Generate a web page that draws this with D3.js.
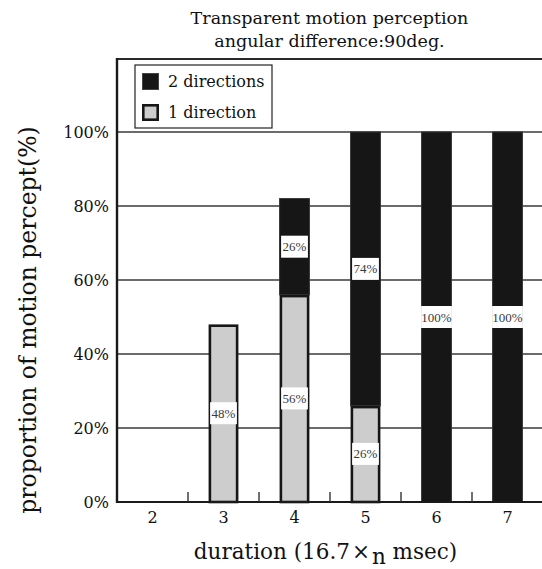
<!DOCTYPE html>
<html>
<head>
<meta charset="utf-8">
<script src="https://cdn.jsdelivr.net/npm/d3@7"></script>
<style>
  body { margin: 0; background: #fff; }
  svg { display: block; }
  text { font-family: "DejaVu Serif", "Liberation Serif", serif; fill: #111; }
</style>
</head>
<body>
<div id="chart"></div>
<script>
// data
const durations = ["2", "3", "4", "5", "6", "7"];
const oneDirection = [0, 48, 56, 26, 0, 0];
const twoDirections = [0, 0, 26, 74, 100, 100];
const yTicks = [0, 20, 40, 60, 80, 100];
const seriesNames = ["1 direction", "2 directions"];

const width = 542, height = 569;
const margin = {top: 58, right: -1, bottom: 67, left: 117};

const svg = d3.select("#chart").append("svg")
    .attr("width", width)
    .attr("height", height);

const rows = durations.map((d, i) => ({dur: d, one: oneDirection[i], two: twoDirections[i]}));

const x = d3.scaleBand()
    .domain(durations)
    .range([margin.left, width - margin.right])
    .paddingInner(0.58)
    .paddingOuter(0.29);

const y = d3.scaleLinear()
    .domain([0, 120])
    .range([height - margin.bottom, margin.top]);

// grid lines
svg.append("g").selectAll("line")
    .data(yTicks.slice(1))
    .join("line")
    .attr("x1", margin.left).attr("x2", width)
    .attr("y1", d => y(d)).attr("y2", d => y(d))
    .attr("stroke", "#3a3a3a")
    .attr("stroke-width", 1.4);

// top frame
svg.append("line")
    .attr("x1", margin.left).attr("x2", width)
    .attr("y1", y(120) + 1).attr("y2", y(120) + 1)
    .attr("stroke", "#2a2a2a").attr("stroke-width", 2);

const stack = d3.stack().keys(["one", "two"]);
const layers = stack(rows);

// 2 directions (black)
svg.append("g").selectAll("rect")
    .data(layers[1].filter(d => d[1] > d[0]))
    .join("rect")
    .attr("x", d => x(d.data.dur))
    .attr("width", x.bandwidth())
    .attr("y", d => y(d[1]))
    .attr("height", d => y(d[0]) - y(d[1]))
    .attr("fill", "#161616")
    .attr("stroke", "#333")
    .attr("stroke-width", 1);

// 1 direction (gray, thick outline)
svg.append("g").selectAll("rect")
    .data(layers[0].filter(d => d[1] > d[0]))
    .join("rect")
    .attr("x", d => x(d.data.dur) + 1.3)
    .attr("width", x.bandwidth() - 2.6)
    .attr("y", d => y(d[1]) + 1.3)
    .attr("height", d => y(d[0]) - y(d[1]) - 1.3)
    .attr("fill", "#cdcdcd")
    .attr("stroke", "#161616")
    .attr("stroke-width", 2.6);

// value labels with white boxes
const segs = [];
layers.forEach(layer => layer.forEach(d => {
  if (d[1] > d[0]) segs.push({dur: d.data.dur, mid: (d[0] + d[1]) / 2, v: d[1] - d[0]});
}));

const lab = svg.append("g").selectAll("g")
    .data(segs)
    .join("g")
    .attr("transform", d => `translate(${x(d.dur) + x.bandwidth() / 2},${y(d.mid)})`);
lab.append("rect")
    .attr("x", d => -(d.v === 100 ? x.bandwidth() + 1 : x.bandwidth() - 3) / 2)
    .attr("width", d => d.v === 100 ? x.bandwidth() + 1 : x.bandwidth() - 3)
    .attr("y", -11).attr("height", 22)
    .attr("fill", "#fff");
lab.append("text")
    .attr("text-anchor", "middle")
    .attr("dy", "0.35em")
    .style("font-family", "'Liberation Serif', serif")
    .style("font-size", "13px")
    .style("fill", "#3a3a3a")
    .text(d => d.v + "%");

// x axis baseline and separators
svg.append("line")
    .attr("x1", margin.left).attr("x2", width)
    .attr("y1", y(0)).attr("y2", y(0))
    .attr("stroke", "#1a1a1a").attr("stroke-width", 2);

svg.append("g").selectAll("line")
    .data(durations.slice(1))
    .join("line")
    .attr("x1", d => x(d) - x.step() * x.paddingInner() / 2)
    .attr("x2", d => x(d) - x.step() * x.paddingInner() / 2)
    .attr("y1", y(0)).attr("y2", y(0) - 10)
    .attr("stroke", "#333").attr("stroke-width", 1.4);

const xAxis = svg.append("g")
    .attr("transform", `translate(0,${y(0)})`)
    .call(d3.axisBottom(x).tickSize(0).tickPadding(10));
xAxis.select(".domain").remove();
xAxis.selectAll("text")
    .style("font-family", "'DejaVu Serif', serif")
    .style("font-size", "16px")
    .style("fill", "#111");

const yAxis = svg.append("g")
    .attr("transform", `translate(${margin.left},0)`)
    .call(d3.axisLeft(y).tickValues(yTicks).tickSize(0).tickPadding(8).tickFormat(d => d + "%"));
yAxis.select(".domain").remove();
yAxis.selectAll("text")
    .style("font-family", "'DejaVu Serif', serif")
    .style("font-size", "16px")
    .style("fill", "#111");

// left axis line
svg.append("line")
    .attr("x1", margin.left).attr("x2", margin.left)
    .attr("y1", y(120)).attr("y2", y(0) + 1)
    .attr("stroke", "#1a1a1a").attr("stroke-width", 2.4);

// title
const cx = (margin.left + width) / 2;
svg.append("text")
    .attr("x", cx).attr("y", 24)
    .attr("text-anchor", "middle")
    .style("font-size", "17.5px")
    .text("Transparent motion perception");
svg.append("text")
    .attr("x", cx).attr("y", 47)
    .attr("text-anchor", "middle")
    .style("font-size", "17.5px")
    .text("angular difference:90deg.");

// axis titles
const xt = svg.append("text")
    .attr("x", cx - 4).attr("y", 559)
    .attr("text-anchor", "middle")
    .style("font-size", "21.5px");
xt.append("tspan").text("duration (16.7");
xt.append("tspan").text("\u00d7").attr("dx", 2);
xt.append("tspan").text("n").attr("dx", 2).attr("dy", 5);
xt.append("tspan").text(" msec)").attr("dy", -5);

svg.append("text")
    .attr("transform", `translate(36,${(y(0) + y(100)) / 2 + 3}) rotate(-90)`)
    .attr("text-anchor", "middle")
    .style("font-size", "23.5px")
    .text("proportion of motion percept(%)");

// legend
const legend = svg.append("g").attr("transform", "translate(135,65)");
legend.append("rect")
    .attr("width", 137).attr("height", 63)
    .attr("fill", "#fff")
    .attr("stroke", "#222").attr("stroke-width", 1.2);
const legendItems = [
  {name: seriesNames[1], fill: "#161616", stroke: "#444", sw: 1},
  {name: seriesNames[0], fill: "#cdcdcd", stroke: "#161616", sw: 2.6}
];
const li = legend.selectAll("g.item")
    .data(legendItems)
    .join("g")
    .attr("class", "item")
    .attr("transform", (d, i) => `translate(7,${8 + i * 31})`);
li.append("rect")
    .attr("x", d => d.sw / 2).attr("y", d => d.sw / 2)
    .attr("width", d => 17 - d.sw).attr("height", d => 17 - d.sw)
    .attr("fill", d => d.fill)
    .attr("stroke", d => d.stroke)
    .attr("stroke-width", d => d.sw);
li.append("text")
    .attr("x", 26).attr("y", 14)
    .style("font-size", "16px")
    .text(d => d.name);
</script>
</body>
</html>
